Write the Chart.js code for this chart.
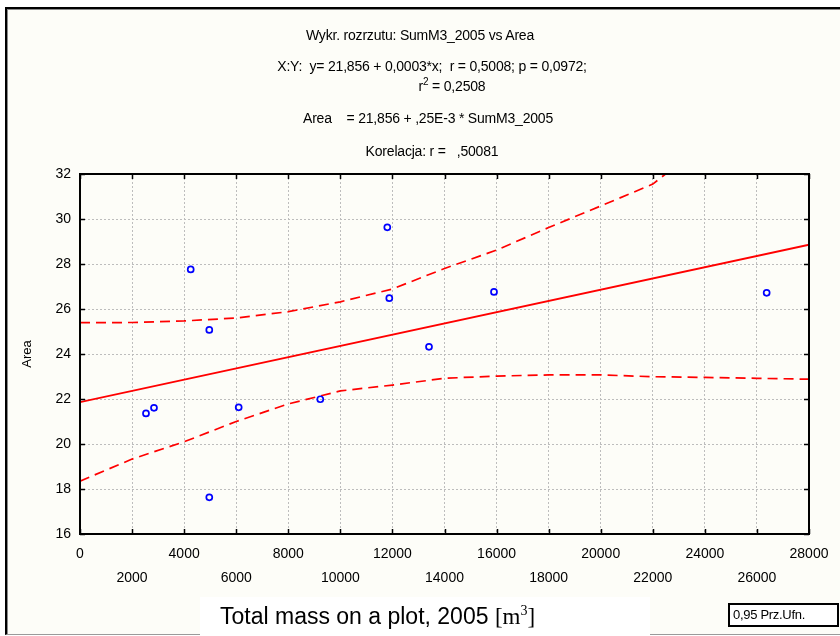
<!DOCTYPE html>
<html><head><meta charset="utf-8">
<script src="https://cdn.jsdelivr.net/npm/chart.js@4.4.0/dist/chart.umd.min.js"></script>
<style>
html,body{margin:0;padding:0;background:#fff;}
#wrap{position:relative;width:840px;height:636px;overflow:hidden;background:#fff;font-family:"Liberation Sans",Arial,sans-serif;}
#frame{position:absolute;left:5px;top:7px;width:836px;height:628px;background:#fdfdf8;border-top:2px solid #000;border-left:2px solid #000;border-bottom:1px solid #9a9a9a;box-sizing:border-box;box-shadow:inset 1px 1px 0 #8a8a8a;}
canvas{position:absolute;left:0;top:0;}
.t{position:absolute;white-space:nowrap;font-size:14px;line-height:16px;color:#000;transform:translateX(-50%);letter-spacing:-0.2px;}
#xlab{position:absolute;left:200px;top:597px;width:450px;height:39px;background:#fff;}
#xlab span.m{position:absolute;left:20px;top:6px;font-family:"Liberation Sans",Arial,sans-serif;font-size:23px;color:#000;white-space:nowrap;}
#xlab .s{font-family:"Liberation Serif","Times New Roman",serif;}
#ci{position:absolute;left:728px;top:603px;width:111px;height:24px;border:2px solid #000;box-sizing:border-box;background:#fff;font-size:13px;line-height:20px;padding-left:3px;color:#000;white-space:nowrap;letter-spacing:-0.3px;}
</style></head>
<body>
<div id="wrap">
<div id="frame"></div>
<canvas id="c" width="840" height="636"></canvas>
<div class="t" style="left:420px;top:27px;">Wykr. rozrzutu: SumM3_2005 vs Area</div>
<div class="t" style="left:432px;top:58px;">X:Y:&nbsp; y= 21,856 + 0,0003*x;&nbsp; r = 0,5008; p = 0,0972;</div>
<div class="t" style="left:452px;top:78px;">r<sup style="font-size:10px;line-height:0;">2</sup> = 0,2508</div>
<div class="t" style="left:428px;top:110px;">Area&nbsp;&nbsp;&nbsp; = 21,856 + ,25E-3 * SumM3_2005</div>
<div class="t" style="left:432px;top:143px;">Korelacja: r = &nbsp; ,50081</div>
<div id="xlab"><span class="m">Total mass on a plot, 2005 <span class="s">[m<sup style="font-size:14px;line-height:0;">3</sup>]</span></span></div>
<div id="ci">0,95 Prz.Ufn.</div>
</div>
<script>
// Scatter data (SumM3_2005 vs Area)
const massX = [2535, 2842, 4252, 4966, 4966, 6095, 9229, 11803, 11880, 13405, 15901, 26374];
const areaY = [21.36, 21.61, 27.76, 25.07, 17.63, 21.63, 21.99, 29.63, 26.48, 24.32, 26.76, 26.72];
// Regression line: Area = 21.856 + 0.00025 * SumM3_2005
const regX = [0, 28000];
const regY = [21.856, 28.856];
// 95% confidence band
const upperX = [0, 2000, 4000, 6000, 8000, 10000, 12000, 14000, 16000, 18000, 20000, 22000, 22600];
const upperY = [25.39, 25.40, 25.47, 25.60, 25.88, 26.32, 26.89, 27.80, 28.62, 29.62, 30.58, 31.55, 32.1];
const lowerX = [0, 2000, 4000, 6000, 8000, 10000, 12000, 14000, 16000, 18000, 20000, 22000, 24000, 26000, 28000];
const lowerY = [18.35, 19.33, 20.10, 21.00, 21.78, 22.36, 22.62, 22.92, 23.02, 23.07, 23.07, 22.99, 22.96, 22.92, 22.88];
// Axis ranges / ticks
const xMin = 0, xMax = 28000, xStep = 2000;
const yMin = 16, yMax = 32, yStep = 2;

const pts = (xs, ys) => xs.map((x, i) => ({x: x, y: ys[i]}));
const FONT = '"Liberation Sans", Arial, sans-serif';

const framePlugin = {
  id: 'frame',
  afterDraw(chart) {
    const {ctx, chartArea: a, scales: {x, y}} = chart;
    ctx.save();
    ctx.strokeStyle = '#000';
    ctx.lineWidth = 1.5;
    ctx.beginPath();
    x.ticks.forEach(t => {
      const px = Math.round(x.getPixelForValue(t.value)) + 0.5;
      ctx.moveTo(px, a.top); ctx.lineTo(px, a.top + 5);
      ctx.moveTo(px, a.bottom); ctx.lineTo(px, a.bottom - 5);
    });
    y.ticks.forEach(t => {
      const py = Math.round(y.getPixelForValue(t.value)) + 0.5;
      ctx.moveTo(a.left, py); ctx.lineTo(a.left + 5, py);
      ctx.moveTo(a.right, py); ctx.lineTo(a.right - 5, py);
    });
    ctx.stroke();
    ctx.lineWidth = 2;
    ctx.strokeRect(a.left, a.top, a.right - a.left, a.bottom - a.top);
    ctx.restore();
  }
};

new Chart(document.getElementById('c'), {
  type: 'scatter',
  data: {
    datasets: [
      {data: pts(regX, regY), showLine: true, borderColor: '#ff0000', borderWidth: 1.8, pointRadius: 0, order: 2},
      {data: pts(upperX, upperY), showLine: true, borderColor: '#ff0000', borderWidth: 1.7, borderDash: [10, 6], pointRadius: 0, order: 3},
      {data: pts(lowerX, lowerY), showLine: true, borderColor: '#ff0000', borderWidth: 1.7, borderDash: [10, 6], pointRadius: 0, order: 4},
      {data: pts(massX, areaY), showLine: false, pointRadius: 3, pointBorderColor: '#0000ff', pointBackgroundColor: 'rgba(0,0,0,0)', pointBorderWidth: 1.7, order: 1}
    ]
  },
  options: {
    responsive: false,
    animation: false,
    layout: {padding: {left: 0, top: 174, right: 31, bottom: 42}},
    plugins: {legend: {display: false}, tooltip: {enabled: false}},
    scales: {
      x: {
        type: 'linear', min: xMin, max: xMax,
        afterFit: s => { s.height = 60; },
        ticks: {
          stepSize: xStep, autoSkip: false, maxRotation: 0, padding: 8, color: '#000',
          font: {family: FONT, size: 14, lineHeight: 24 / 14},
          callback: (v, i) => (i % 2 === 0 ? String(v) : ['', String(v)])
        },
        grid: {drawTicks: false, color: '#bdbdbd', lineWidth: 1},
        border: {display: false, dash: [2, 2]}
      },
      y: {
        type: 'linear', min: yMin, max: yMax,
        afterFit: s => { s.width = 80; },
        ticks: {stepSize: yStep, padding: 9, color: '#000', font: {family: FONT, size: 14}},
        grid: {drawTicks: false, color: '#bdbdbd', lineWidth: 1},
        border: {display: false, dash: [2, 2]},
        title: {display: true, text: 'Area', color: '#000', font: {family: FONT, size: 13}, padding: {top: 20, bottom: 0}}
      }
    }
  },
  plugins: [framePlugin]
});
</script>
</body></html>
